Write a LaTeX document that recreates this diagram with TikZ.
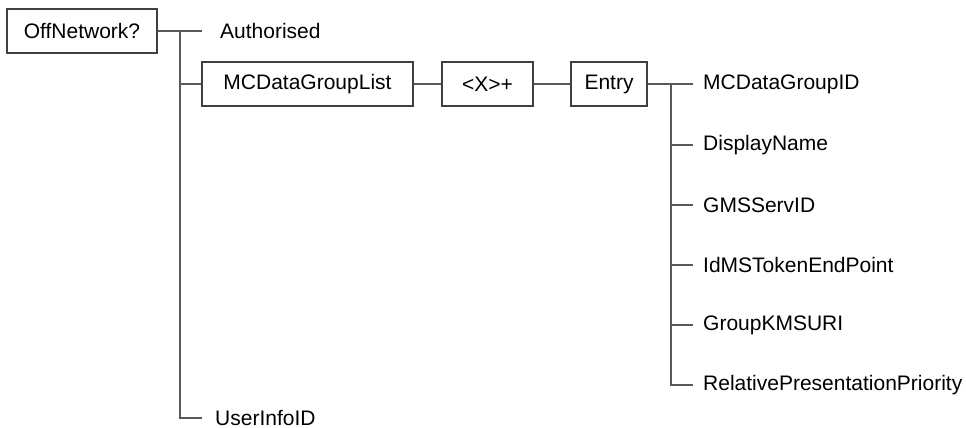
\documentclass[tikz,border=0pt]{standalone}
\usepackage{fontspec}
\setmainfont{Liberation Sans}
\usepackage{tikz}
\usetikzlibrary{positioning}

\tikzset{
    elem/.style={draw=black!75, line width=1.2pt, minimum height=44pt, inner sep=0pt,
                 font=\fontsize{21}{25}\selectfont},
    leaf/.style={anchor=west, inner xsep=10pt, inner ysep=0pt,
                 font=\fontsize{21}{25}\selectfont},
    conn/.style={draw=black!65, line width=1.2pt},
}

\begin{document}
\begin{tikzpicture}[x=1pt, y=-1pt]
    \useasboundingbox (0,0) rectangle (966,428);

    % Nodes {off, list, rep, entry}
    \node [elem, minimum width=150pt] (off)   at (82,31)    {OffNetwork?};
    \node [elem, minimum width=211pt] (list)  at (307.5,84) {MCDataGroupList};
    \node [elem, minimum width=91pt]  (rep)   at (487.5,84) {<X>+};
    \node [elem, minimum width=76pt]  (entry) at (609,84)   {Entry};

    % Leaves
    \node [leaf, inner xsep=18pt] (auth) at (202,31)  {Authorised};
    \node [leaf, inner xsep=13pt] (user) at (202,418) {UserInfoID};
    \node [leaf] (id1) at (693,84)  {MCDataGroupID};
    \node [leaf] (id2) at (693,145) {DisplayName};
    \node [leaf] (id3) at (693,205) {GMSServID};
    \node [leaf] (id4) at (693,265) {IdMSTokenEndPoint};
    \node [leaf] (id5) at (693,325) {GroupKMSURI};
    \node [leaf] (id6) at (693,385) {RelativePresentationPriority};

    % Junctions
    \coordinate (j1) at (180,31);
    \coordinate (j2) at (671,84);

    % Paths
    \path [conn] (off.east)   -- (auth.west);
    \path [conn] (j1)         |- (user.west);
    \path [conn] (j1 |- list) -- (list.west);
    \path [conn] (list.east)  -- (rep.west);
    \path [conn] (rep.east)   -- (entry.west);
    \path [conn] (entry.east) -- (id1.west);
    \path [conn] (j2)         |- (id6.west);
    \foreach \n in {id2,id3,id4,id5}
        \path [conn] (j2 |- \n.west) -- (\n.west);

\end{tikzpicture}
\end{document}
